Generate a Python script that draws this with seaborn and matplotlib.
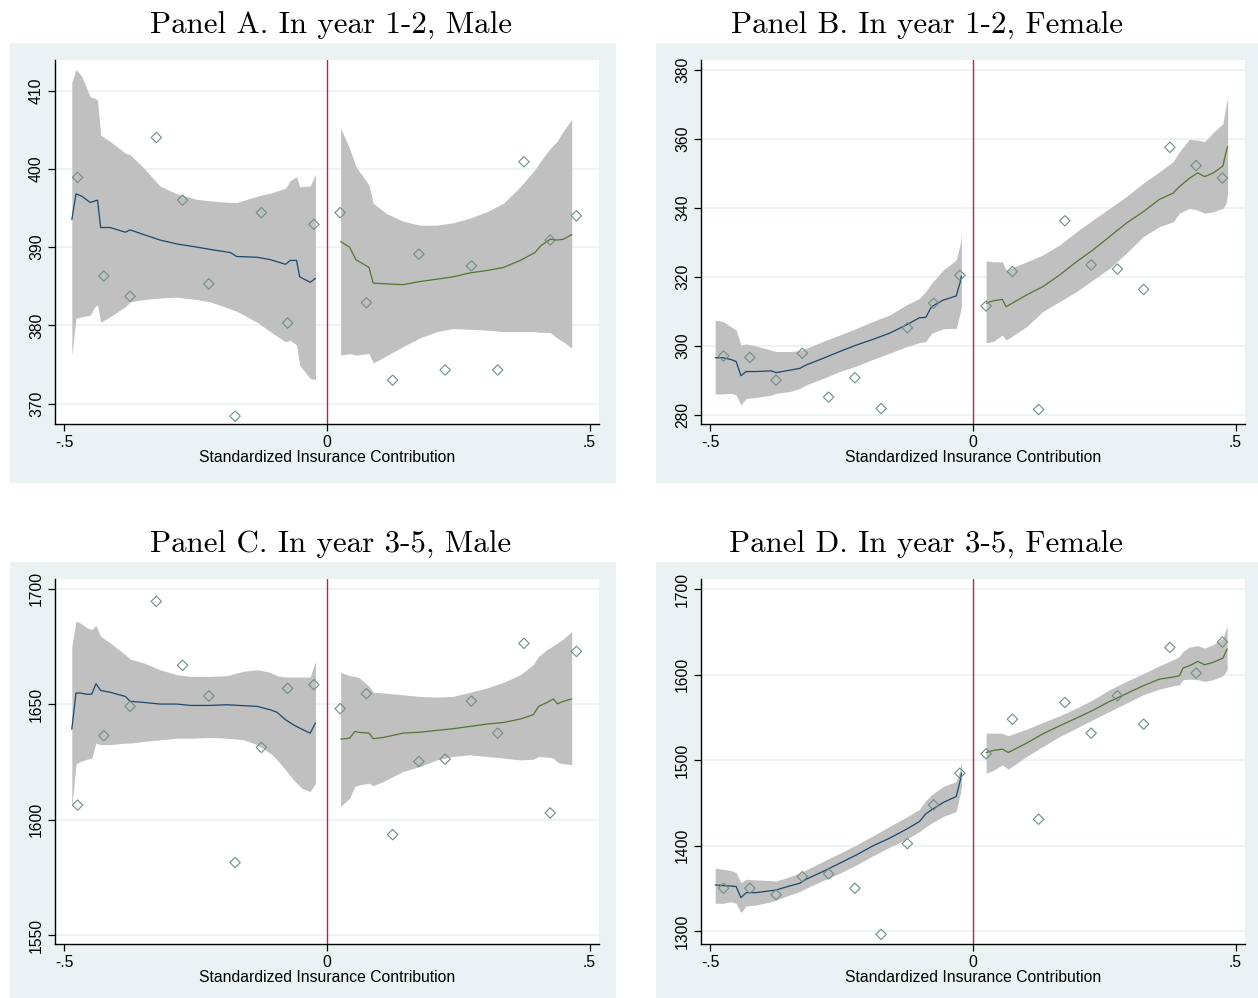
import numpy as np
import matplotlib
matplotlib.use("Agg")
import matplotlib.pyplot as plt
from matplotlib.patches import Rectangle
import seaborn as sns

# ─────────────────────────────────────────
# Data
# ─────────────────────────────────────────
bins_left = [-0.475, -0.425, -0.375, -0.325, -0.275, -0.225, -0.175, -0.125, -0.075, -0.025]
bins_right = [0.025, 0.075, 0.125, 0.175, 0.225, 0.275, 0.325, 0.375, 0.425, 0.475]

# bin means
a_pts_l = [398.9, 386.3, 383.7, 404.0, 396.0, 385.3, 368.4, 394.4, 380.3, 392.9]
a_pts_r = [394.4, 382.9, 373.0, 389.1, 374.3, 387.6, 374.3, 400.9, 390.9, 394.0]
b_pts_l = [297.1, 296.7, 290.1, 297.9, 285.2, 290.8, 281.9, 305.3, 312.4, 320.5]
b_pts_r = [311.6, 321.6, 281.6, 336.3, 323.5, 322.3, 316.4, 357.6, 352.3, 348.7]
c_pts_l = [1606.3, 1636.4, 1649.1, 1694.6, 1666.9, 1653.6, 1581.4, 1631.3, 1656.9, 1658.5]
c_pts_r = [1648.1, 1654.6, 1593.5, 1625.2, 1626.2, 1651.4, 1637.5, 1676.4, 1602.9, 1672.9]
d_pts_l = [1350.0, 1350.0, 1342.5, 1363.6, 1366.7, 1350.0, 1296.1, 1402.2, 1447.5, 1484.6]
d_pts_r = [1507.2, 1547.8, 1430.7, 1567.3, 1531.4, 1575.1, 1541.9, 1631.7, 1601.7, 1638.0]

# local fits with confidence bands — Panel A
a_lx = [-0.486, -0.478, -0.467, -0.451, -0.442, -0.437, -0.431, -0.413, -0.384, -0.375, -0.349, -0.318, -0.286,
        -0.248, -0.222, -0.184, -0.172, -0.133, -0.108, -0.079, -0.070, -0.058, -0.052, -0.032, -0.022]
a_lfit = [393.5, 396.8, 396.5, 395.7, 395.9, 396.0, 392.5, 392.5, 391.9, 392.2, 391.6, 390.9, 390.4,
          390.0, 389.7, 389.3, 388.8, 388.7, 388.4, 387.8, 388.3, 388.3, 386.2, 385.5, 386.0]
a_lhi = [411.0, 412.7, 411.8, 409.2, 409.0, 408.8, 404.3, 403.5, 402.0, 401.8, 400.1, 397.8, 396.8,
         396.1, 395.9, 395.7, 395.7, 396.5, 396.9, 397.5, 398.5, 399.0, 397.7, 397.8, 399.3]
a_llo = [376.1, 380.9, 381.1, 381.3, 382.4, 382.6, 380.4, 381.1, 382.4, 383.0, 383.3, 383.5, 383.6,
         383.3, 383.0, 382.1, 381.8, 380.4, 379.2, 377.9, 378.1, 377.5, 374.9, 373.2, 373.1]
a_rx = [0.026, 0.043, 0.055, 0.080, 0.088, 0.113, 0.145, 0.177, 0.209, 0.240, 0.272, 0.304, 0.336,
        0.368, 0.396, 0.406, 0.425, 0.438, 0.450, 0.466]
a_rfit = [390.7, 390.0, 388.4, 387.4, 385.4, 385.3, 385.2, 385.6, 385.9, 386.2, 386.7, 387.0, 387.4,
          388.3, 389.3, 390.1, 391.0, 390.9, 391.0, 391.6]
a_rhi = [405.2, 402.6, 400.3, 397.9, 395.6, 394.3, 393.3, 392.8, 392.8, 393.1, 393.7, 394.5, 395.6,
         397.7, 399.9, 400.9, 402.6, 403.5, 404.8, 406.3]
a_rlo = [376.2, 376.4, 376.2, 376.4, 375.2, 376.1, 377.3, 378.4, 379.2, 379.6, 379.5, 379.4, 379.2,
         379.2, 379.2, 379.1, 379.1, 378.4, 377.9, 377.1]

# Panel B
bd_lx = [-0.491, -0.476, -0.461, -0.451, -0.442, -0.432, -0.413, -0.384, -0.375, -0.349, -0.330, -0.318, -0.286,
         -0.254, -0.222, -0.191, -0.159, -0.127, -0.102, -0.090, -0.079, -0.057, -0.032, -0.024, -0.022]
b_lfit = [296.6, 296.6, 296.1, 295.5, 291.4, 292.6, 292.6, 292.8, 292.3, 293.0, 293.5, 294.5, 296.4,
          298.4, 300.3, 301.9, 303.7, 306.1, 308.2, 308.3, 311.4, 313.3, 314.5, 318.7, 320.3]
b_lhi = [307.5, 307.1, 305.6, 304.6, 300.3, 300.6, 300.0, 298.8, 298.4, 298.4, 298.7, 299.3, 301.3,
         303.2, 305.1, 307.1, 309.0, 311.9, 313.8, 315.8, 318.2, 322.0, 324.9, 329.8, 332.4]
b_llo = [286.1, 286.1, 286.3, 285.8, 282.9, 284.8, 285.1, 285.8, 286.3, 286.8, 287.7, 288.7, 290.6,
         292.6, 294.2, 296.1, 297.9, 299.8, 301.0, 301.3, 303.7, 305.0, 305.1, 310.0, 311.4]
b_rx = [0.025, 0.038, 0.056, 0.063, 0.102, 0.133, 0.165, 0.197, 0.228, 0.260, 0.292, 0.324, 0.355,
        0.381, 0.393, 0.412, 0.428, 0.441, 0.457, 0.476, 0.482, 0.485]
b_rfit = [312.4, 313.1, 313.5, 311.4, 314.8, 317.2, 320.6, 324.4, 327.8, 331.7, 335.6, 338.9, 342.5,
          344.3, 346.2, 348.6, 350.2, 349.1, 350.1, 352.2, 356.3, 357.8]
b_rhi = [324.7, 324.4, 324.4, 322.0, 324.4, 326.4, 329.3, 333.1, 336.5, 339.9, 343.3, 347.2, 350.5,
         353.4, 356.3, 359.9, 359.7, 359.2, 361.8, 364.5, 369.9, 371.8]
b_rlo = [301.0, 301.3, 303.2, 301.7, 305.6, 310.0, 312.9, 315.8, 319.1, 322.5, 326.9, 331.7, 334.6,
         336.0, 338.5, 339.9, 339.4, 338.5, 338.9, 339.9, 341.4, 344.3]

# Panel C
c_lx = [-0.486, -0.478, -0.470, -0.457, -0.448, -0.440, -0.431, -0.413, -0.384, -0.375, -0.349, -0.318, -0.286,
        -0.260, -0.222, -0.191, -0.159, -0.133, -0.108, -0.095, -0.079, -0.064, -0.048, -0.032, -0.022]
c_lfit = [1639.2, 1654.9, 1654.9, 1654.3, 1654.4, 1658.9, 1656.0, 1655.2, 1653.4, 1651.3, 1650.8, 1650.1, 1650.1,
          1649.5, 1649.5, 1649.8, 1649.4, 1649.1, 1647.6, 1646.5, 1643.3, 1641.1, 1639.2, 1637.5, 1641.9]
c_lhi = [1675.1, 1686.0, 1685.3, 1683.1, 1682.4, 1684.1, 1679.5, 1676.6, 1671.5, 1669.6, 1667.9, 1665.0, 1662.8,
         1662.1, 1662.1, 1662.4, 1664.3, 1665.0, 1663.8, 1662.4, 1661.8, 1661.8, 1661.8, 1661.8, 1668.6]
c_llo = [1605.0, 1624.2, 1625.2, 1626.2, 1626.7, 1633.2, 1632.5, 1632.5, 1633.2, 1633.2, 1633.9, 1634.6, 1635.3,
         1635.3, 1635.6, 1635.3, 1634.6, 1632.5, 1628.8, 1625.9, 1621.6, 1617.3, 1613.6, 1612.2, 1615.8]
c_rx = [0.026, 0.043, 0.053, 0.062, 0.080, 0.088, 0.107, 0.145, 0.177, 0.209, 0.240, 0.272, 0.304,
        0.336, 0.368, 0.393, 0.403, 0.419, 0.431, 0.439, 0.450, 0.466]
c_rfit = [1634.9, 1635.3, 1638.2, 1637.8, 1637.5, 1635.1, 1635.6, 1637.5, 1637.9, 1638.7, 1639.4, 1640.4, 1641.4,
          1642.1, 1643.6, 1645.5, 1649.1, 1650.8, 1652.3, 1650.2, 1651.3, 1652.3]
c_rhi = [1663.8, 1662.4, 1662.1, 1661.4, 1657.8, 1655.2, 1654.9, 1654.1, 1653.4, 1653.1, 1653.4, 1655.2, 1657.0,
         1659.5, 1662.8, 1667.2, 1670.8, 1673.7, 1675.4, 1676.6, 1678.3, 1681.6]
c_rlo = [1605.7, 1609.3, 1614.4, 1615.1, 1615.8, 1614.7, 1616.5, 1620.9, 1623.0, 1625.9, 1627.4, 1628.1, 1627.4,
         1626.7, 1625.9, 1626.2, 1627.4, 1627.1, 1626.7, 1624.8, 1624.2, 1623.8]

# Panel D (left grid shared with B)
d_lfit = [1353.9, 1353.1, 1352.7, 1351.9, 1339.0, 1344.9, 1344.9, 1347.2, 1348.0, 1352.7, 1355.8, 1360.5, 1369.5,
          1379.2, 1389.0, 1399.5, 1408.5, 1419.0, 1428.0, 1437.0, 1441.7, 1450.2, 1457.3, 1476.8, 1484.6]
d_lhi = [1373.4, 1372.2, 1370.6, 1368.3, 1356.6, 1360.5, 1359.7, 1358.9, 1358.5, 1363.6, 1367.5, 1371.4, 1381.2,
         1390.9, 1400.7, 1411.2, 1422.2, 1433.1, 1442.4, 1452.6, 1459.2, 1469.0, 1474.8, 1490.4, 1501.0]
d_llo = [1332.4, 1332.4, 1334.3, 1332.4, 1321.5, 1329.3, 1330.4, 1334.3, 1336.3, 1342.2, 1346.1, 1350.0, 1358.9,
         1367.5, 1377.3, 1387.8, 1398.0, 1407.3, 1416.3, 1421.9, 1426.1, 1433.9, 1439.7, 1461.2, 1469.0]
d_rx = [0.025, 0.038, 0.056, 0.067, 0.102, 0.133, 0.165, 0.197, 0.228, 0.260, 0.292, 0.324, 0.355,
        0.381, 0.393, 0.400, 0.412, 0.428, 0.441, 0.457, 0.476, 0.484]
d_rfit = [1508.8, 1511.1, 1512.7, 1508.8, 1519.7, 1530.6, 1540.0, 1549.0, 1558.0, 1568.5, 1577.5, 1586.8, 1594.6,
          1597.0, 1598.5, 1607.5, 1610.2, 1615.3, 1611.4, 1614.2, 1619.2, 1629.8]
d_rhi = [1531.4, 1531.4, 1531.4, 1528.3, 1536.1, 1543.9, 1551.7, 1560.7, 1570.4, 1582.2, 1591.9, 1600.9, 1610.2,
         1617.3, 1621.2, 1627.0, 1632.1, 1633.7, 1630.9, 1634.8, 1642.6, 1657.1]
d_rlo = [1484.6, 1487.7, 1494.3, 1489.3, 1504.1, 1515.8, 1527.5, 1537.3, 1547.0, 1556.8, 1566.5, 1576.3, 1582.9,
         1586.8, 1588.0, 1593.9, 1594.6, 1593.9, 1591.9, 1593.9, 1598.5, 1605.6]

titles = ["Panel A. In year 1-2, Male", "Panel B. In year 1-2, Female",
          "Panel C. In year 3-5, Male", "Panel D. In year 3-5, Female"]
x_ticks = [-0.5, 0, 0.5]
x_ticklabels = ["-.5", "0", ".5"]
a_yticks = [370, 380, 390, 400, 410]
b_yticks = [280, 300, 320, 340, 360, 380]
c_yticks = [1550, 1600, 1650, 1700]
d_yticks = [1300, 1400, 1500, 1600, 1700]

# ─────────────────────────────────────────
# Style
# ─────────────────────────────────────────
sns.set_style("white")
plt.rcParams['font.family'] = ['Liberation Sans', 'DejaVu Sans']

BG = '#EAF2F3'
BAND = '#C0C0C0'
NAVY = '#1A476F'
GREEN = '#55752F'
TEAL = '#6E8E84'
RED = '#C41E45'

W, H = 1258, 998
fig = plt.figure(figsize=(W / 100, H / 100), dpi=100)

# panel background boxes (pixels: x0, y0, x1, y1)
boxes = [(10, 43, 616, 483), (656, 43, 1258, 483), (10, 562, 616, 998), (656, 562, 1258, 998)]
# plot areas (pixels: x0, y_top, x1, y_bottom)
areas = [(55, 60, 599, 424), (701, 60, 1245, 424), (55, 579, 599, 944), (701, 579, 1245, 944)]
title_pos = [(331, 26), (927, 26), (331, 545), (926, 545)]

panels = [
    (a_pts_l, a_pts_r, a_lx, a_lfit, a_llo, a_lhi, a_rx, a_rfit, a_rlo, a_rhi, a_yticks, (367.4, 413.9)),
    (b_pts_l, b_pts_r, bd_lx, b_lfit, b_llo, b_lhi, b_rx, b_rfit, b_rlo, b_rhi, b_yticks, (277.4, 382.9)),
    (c_pts_l, c_pts_r, c_lx, c_lfit, c_llo, c_lhi, c_rx, c_rfit, c_rlo, c_rhi, c_yticks, (1546.1, 1704.3)),
    (d_pts_l, d_pts_r, bd_lx, d_lfit, d_llo, d_lhi, d_rx, d_rfit, d_rlo, d_rhi, d_yticks, (1284.8, 1711.7)),
]

for i, p in enumerate(panels):
    pts_l, pts_r, lx, lfit, llo, lhi, rx, rfit, rlo, rhi, yt, ylim = p

    bx0, by0, bx1, by1 = boxes[i]
    fig.patches.append(Rectangle((bx0 / W, 1 - by1 / H), (bx1 - bx0) / W, (by1 - by0) / H,
                                 transform=fig.transFigure, facecolor=BG, edgecolor='none', zorder=-10))

    x0, yt0, x1, yb = areas[i]
    ax = fig.add_axes([x0 / W, 1 - yb / H, (x1 - x0) / W, (yb - yt0) / H])
    ax.set_zorder(1)
    ax.set_facecolor('white')

    # confidence bands
    ax.fill_between(lx, llo, lhi, color=BAND, linewidth=0, zorder=1)
    ax.fill_between(rx, rlo, rhi, color=BAND, linewidth=0, zorder=1)

    # fitted lines
    sns.lineplot(x=lx, y=lfit, ax=ax, color=NAVY, linewidth=0.9, zorder=3)
    sns.lineplot(x=rx, y=rfit, ax=ax, color=GREEN, linewidth=0.9, zorder=3)

    # bin means
    sns.scatterplot(x=bins_left + bins_right, y=pts_l + pts_r, ax=ax, marker='D', s=28,
                    facecolors='none', edgecolor=TEAL, linewidth=0.8, zorder=4)

    # cutoff
    ax.axvline(0, color=RED, linewidth=1.0, zorder=5)

    ax.set_xlim(-0.518, 0.518)
    ax.set_ylim(*ylim)
    ax.set_xticks(x_ticks)
    ax.set_xticklabels(x_ticklabels)
    ax.set_yticks(yt)
    ax.set_yticklabels([str(v) for v in yt], rotation=90, va='center')

    ax.yaxis.grid(True, color=BG, linewidth=1.2)
    ax.xaxis.grid(False)
    ax.set_axisbelow(True)

    for side in ['top', 'right']:
        ax.spines[side].set_visible(False)
    for side in ['left', 'bottom']:
        ax.spines[side].set_color('black')
        ax.spines[side].set_linewidth(1.0)

    ax.tick_params(axis='both', direction='out', length=5, width=0.9, color='black',
                   labelsize=11.3, labelcolor='black', pad=3, left=True, bottom=True)
    ax.set_xlabel("Standardized Insurance Contribution", fontsize=11.3, labelpad=0, color='black')
    ax.set_ylabel("")

    tx, ty = title_pos[i]
    fig.text(tx / W, 1 - ty / H, titles[i], ha='center', va='center', color='black',
             fontsize=22.3, family=['cmr10', 'DejaVu Serif'])

fig.savefig("out.png", dpi=100)
